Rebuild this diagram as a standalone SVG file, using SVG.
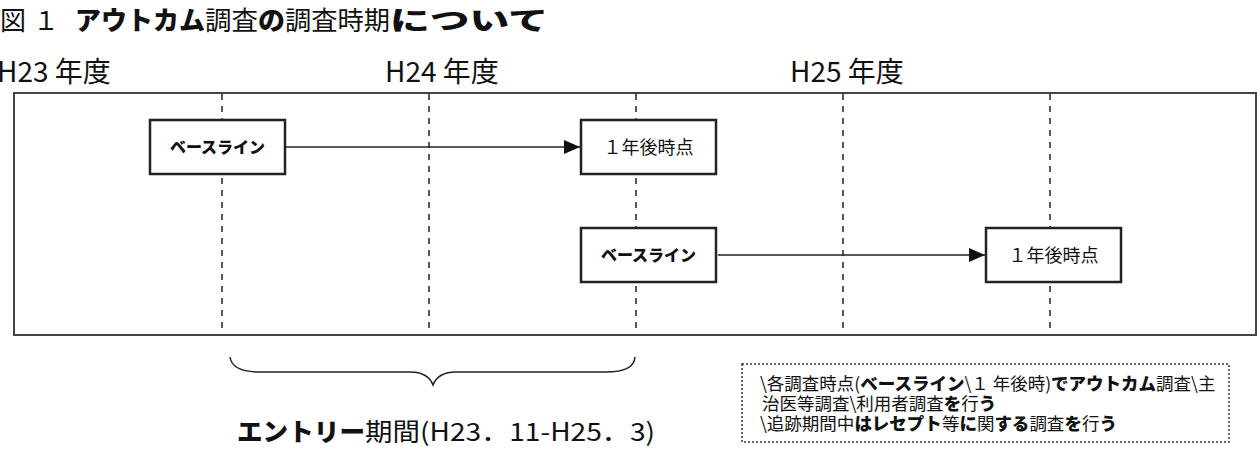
<svg xmlns="http://www.w3.org/2000/svg" width="1260" height="450" viewBox="0 0 1260 450">
  <style>
    .jp { font-family: "Noto Sans CJK JP", "Noto Sans", sans-serif; fill: #111; }
    .b { font-weight: 900; }
    .r { font-weight: 400; }
    .box { fill: #fff; stroke: #222; stroke-width: 2.5; }
    .grid { stroke: #222; stroke-width: 1.5; stroke-dasharray: 6 6; fill: none; }
    .conn { stroke: #222; stroke-width: 1.5; fill: none; }
    .frame { fill: #fff; stroke: #444; stroke-width: 2; }
    .note { fill: #fff; stroke: #333; stroke-width: 1.5; stroke-dasharray: 2 2; }
  </style>
  <defs>
    <marker id="arrow" viewBox="0 0 16 14" refX="16" refY="7" markerWidth="16" markerHeight="14" markerUnits="userSpaceOnUse" orient="auto">
      <path d="M0,0 L16,7 L0,14 z" fill="#111"/>
    </marker>
  </defs>

  <rect width="1260" height="450" fill="#fff"/>

  <!-- title -->
  <text class="jp" y="30" font-size="26"><tspan class="r" x="0">図</tspan><tspan class="r" x="33">１</tspan><tspan class="b" x="75" textLength="130" lengthAdjust="spacingAndGlyphs">アウトカム</tspan><tspan class="r" x="205" textLength="53" lengthAdjust="spacingAndGlyphs">調査</tspan><tspan class="b" x="258" textLength="27" lengthAdjust="spacingAndGlyphs">の</tspan><tspan class="r" x="285" textLength="105" lengthAdjust="spacingAndGlyphs">調査時期</tspan><tspan class="b" x="390" textLength="158" lengthAdjust="spacingAndGlyphs">について</tspan></text>

  <!-- fiscal year labels -->
  <text class="jp r" x="-3" y="82" font-size="28">H23 年度</text>
  <text class="jp r" x="385" y="82" font-size="28">H24 年度</text>
  <text class="jp r" x="790" y="82" font-size="28">H25 年度</text>

  <!-- timeline frame and half-year guides -->
  <rect class="frame" x="14" y="93" width="1242" height="242"/>
  <g id="guides">
    <line class="grid" x1="222" y1="94" x2="222" y2="334"/>
    <line class="grid" x1="429" y1="94" x2="429" y2="334"/>
    <line class="grid" x1="636" y1="94" x2="636" y2="334"/>
    <line class="grid" x1="843" y1="94" x2="843" y2="334"/>
    <line class="grid" x1="1050" y1="94" x2="1050" y2="334"/>
  </g>

  <!-- connectors -->
  <g id="connectors">
    <line class="conn" x1="286" y1="147" x2="580" y2="147" marker-end="url(#arrow)"/>
    <line class="conn" x1="718" y1="255" x2="985" y2="255" marker-end="url(#arrow)"/>
  </g>

  <!-- survey points -->
  <g id="baseline-1">
    <rect class="box" x="150" y="120" width="135" height="54"/>
    <text class="jp b" x="217.5" y="153" font-size="16" text-anchor="middle">ベースライン</text>
  </g>
  <g id="followup-1">
    <rect class="box" x="581" y="120" width="135" height="54"/>
    <text class="jp r" x="648.5" y="154" font-size="18" text-anchor="middle" fill="#333">１年後時点</text>
  </g>
  <g id="baseline-2">
    <rect class="box" x="581" y="228" width="135" height="54"/>
    <text class="jp b" x="648.5" y="261" font-size="16" text-anchor="middle">ベースライン</text>
  </g>
  <g id="followup-2">
    <rect class="box" x="986" y="228" width="135" height="54"/>
    <text class="jp r" x="1053.5" y="262" font-size="18" text-anchor="middle" fill="#333">１年後時点</text>
  </g>

  <!-- entry period brace -->
  <g id="entry-period">
    <path class="conn" stroke-width="2" d="M230,357 Q232,372 260,372 L410,372 Q428,372 433,385 Q438,372 456,372 L606,372 Q634,372 635,357"/>
    <text class="jp" y="441" font-size="25"><tspan class="b" x="237" textLength="128" lengthAdjust="spacingAndGlyphs">エントリー</tspan><tspan class="r" x="365" textLength="55" lengthAdjust="spacingAndGlyphs">期間</tspan><tspan class="r" x="420" textLength="235" lengthAdjust="spacingAndGlyphs">(H23．11-H25．3)</tspan></text>
  </g>

  <!-- notes -->
  <g id="note">
    <rect class="note" x="742" y="364" width="487" height="78"/>
    <text class="jp" x="760" y="390" font-size="17.5"><tspan class="r">\各調査時点(</tspan><tspan class="b">ベースライン</tspan><tspan class="r">\１ 年後時)</tspan><tspan class="b">でアウトカム</tspan><tspan class="r">調査\主</tspan></text>
    <text class="jp" x="762" y="410" font-size="17.5"><tspan class="r">治医等調査\利用者調査</tspan><tspan class="b">を</tspan><tspan class="r">行</tspan><tspan class="b">う</tspan></text>
    <text class="jp" x="760" y="430" font-size="17.5"><tspan class="r">\追跡期間中</tspan><tspan class="b">はレセプト</tspan><tspan class="r">等</tspan><tspan class="b">に</tspan><tspan class="r">関</tspan><tspan class="b">する</tspan><tspan class="r">調査</tspan><tspan class="b">を</tspan><tspan class="r">行</tspan><tspan class="b">う</tspan></text>
  </g>
</svg>
